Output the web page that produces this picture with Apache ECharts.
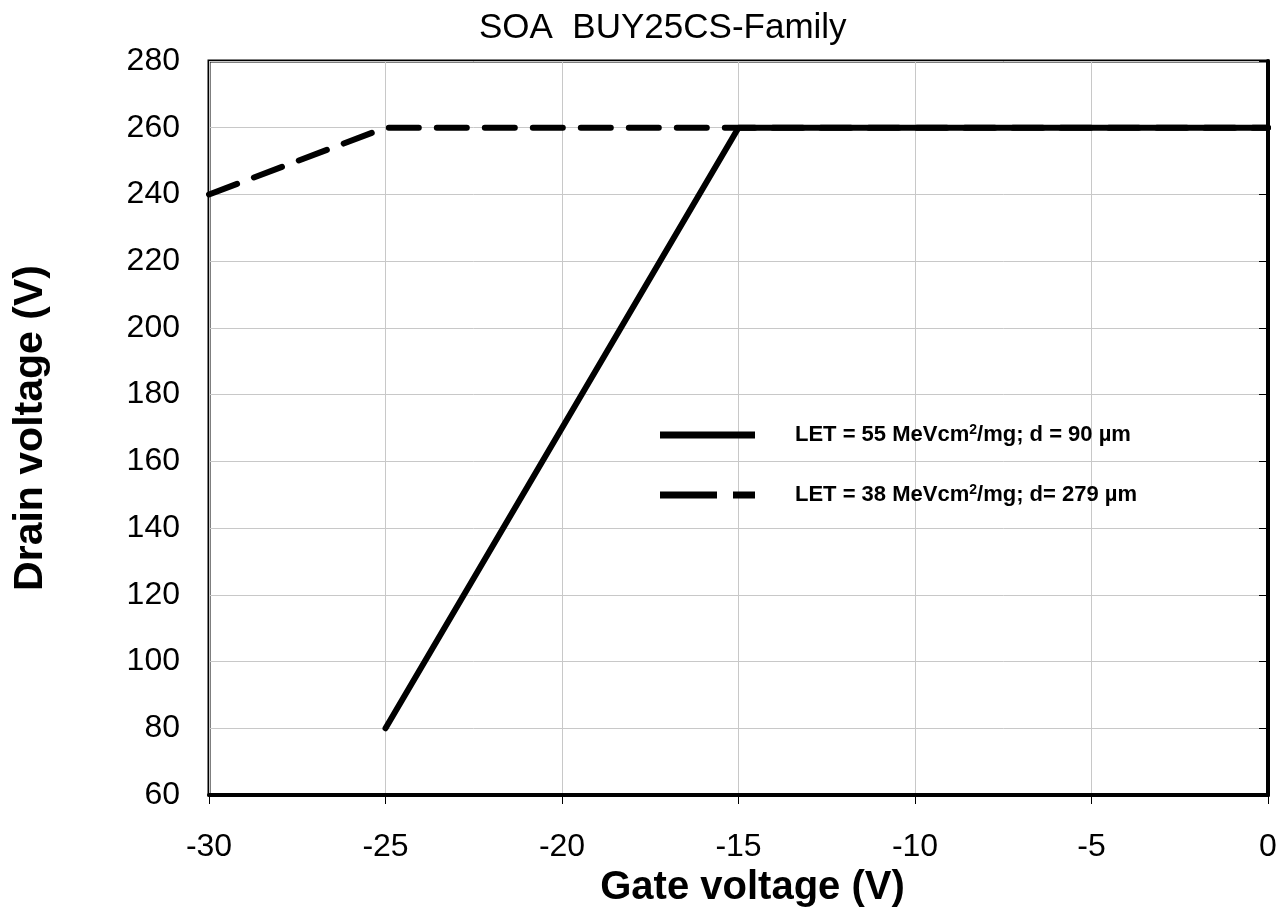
<!DOCTYPE html>
<html>
<head>
<meta charset="utf-8">
<script src="https://cdn.jsdelivr.net/npm/echarts@6/dist/echarts.min.js"></script>
<style>
    html, body { margin: 0; padding: 0; background: #fff; }
    #chart { width: 1282px; height: 907px; }
</style>
</head>
<body>
<div id="chart"></div>
<script>
// data
const let55Points = [[-25, 80], [-15, 260], [0, 260]];
const let38Points = [[-30, 240], [-25, 260], [0, 260]];
const seriesNames = [
    'LET = 55 MeVcm2/mg; d = 90 µm',
    'LET = 38 MeVcm2/mg; d= 279 µm',
];
const legendLabels = {
    'LET = 55 MeVcm2/mg; d = 90 µm': 'LET = 55 MeVcm{sup|2}/mg; d = 90 µm',
    'LET = 38 MeVcm2/mg; d= 279 µm': 'LET = 38 MeVcm{sup|2}/mg; d= 279 µm',
};

const font = 'Liberation Sans, Arial, sans-serif';
const chart = echarts.init(document.getElementById('chart'));

chart.setOption({
    animation: false,
    title: {
        text: 'SOA  BUY25CS-Family',
        left: 474,
        top: 6,
        textStyle: {
            fontFamily: font,
            fontSize: 35,
            fontWeight: 'normal',
            color: '#000',
        },
    },
    grid: {
        left: 209,
        right: 14,
        top: 61,
        bottom: 112,
        outerBoundsMode: 'none',
        show: true,
        borderColor: '#000',
        borderWidth: 3,
    },
    legend: {
        orient: 'vertical',
        left: 655,
        top: 418,
        itemWidth: 95,
        itemHeight: 7,
        itemGap: 37,
        symbolKeepAspect: false,
        data: [
            { name: seriesNames[0], icon: 'path://M0,0H95V7H0Z' },
            { name: seriesNames[1], icon: 'path://M0,0H57V7H0ZM73,0H95V7H73Z' },
        ],
        formatter: (name) => legendLabels[name],
        textStyle: {
            fontFamily: font,
            fontSize: 22,
            fontWeight: 'bold',
            color: '#000',
            padding: [0, 0, 0, 35],
            rich: {
                sup: {
                    fontFamily: font,
                    fontSize: 14,
                    fontWeight: 'bold',
                    color: '#000',
                    verticalAlign: 'top',
                    padding: [0, 0, 10, 0],
                },
            },
        },
    },
    xAxis: {
        type: 'value',
        min: -30,
        max: 0,
        interval: 5,
        name: 'Gate voltage (V)',
        nameLocation: 'middle',
        nameGap: 72,
        nameTextStyle: {
            fontFamily: font,
            fontSize: 40,
            fontWeight: 'bold',
            color: '#000',
            padding: [0, 0, 0, 28],
        },
        axisLine: { lineStyle: { color: '#000', width: 4 } },
        axisTick: { show: true, length: 9, lineStyle: { color: '#000', width: 1 } },
        axisLabel: {
            margin: 36,
            fontFamily: font,
            fontSize: 32,
            color: '#000',
        },
        splitLine: { show: true, lineStyle: { color: '#c8c8c8', width: 1 } },
    },
    yAxis: {
        type: 'value',
        min: 60,
        max: 280,
        interval: 20,
        name: 'Drain voltage (V)',
        nameLocation: 'middle',
        nameGap: 158,
        nameTextStyle: {
            fontFamily: font,
            fontSize: 41,
            fontWeight: 'bold',
            color: '#000',
        },
        axisLine: { show: true, lineStyle: { color: '#000', width: 4 } },
        axisTick: { show: true, length: 9, lineStyle: { color: '#000', width: 1 } },
        axisLabel: {
            margin: 29,
            fontFamily: font,
            fontSize: 32,
            color: '#000',
        },
        splitLine: { show: true, lineStyle: { color: '#c8c8c8', width: 1 } },
    },
    series: [
        {
            name: seriesNames[1],
            type: 'line',
            data: let38Points,
            symbol: 'none',
            lineStyle: { color: '#000', width: 6, type: [30, 18], cap: 'round' },
            itemStyle: { color: '#000' },
            z: 2,
        },
        {
            name: seriesNames[0],
            type: 'line',
            data: let55Points,
            symbol: 'none',
            lineStyle: { color: '#000', width: 6, cap: 'round' },
            itemStyle: { color: '#000' },
            z: 3,
        },
    ],
});
</script>
</body>
</html>
